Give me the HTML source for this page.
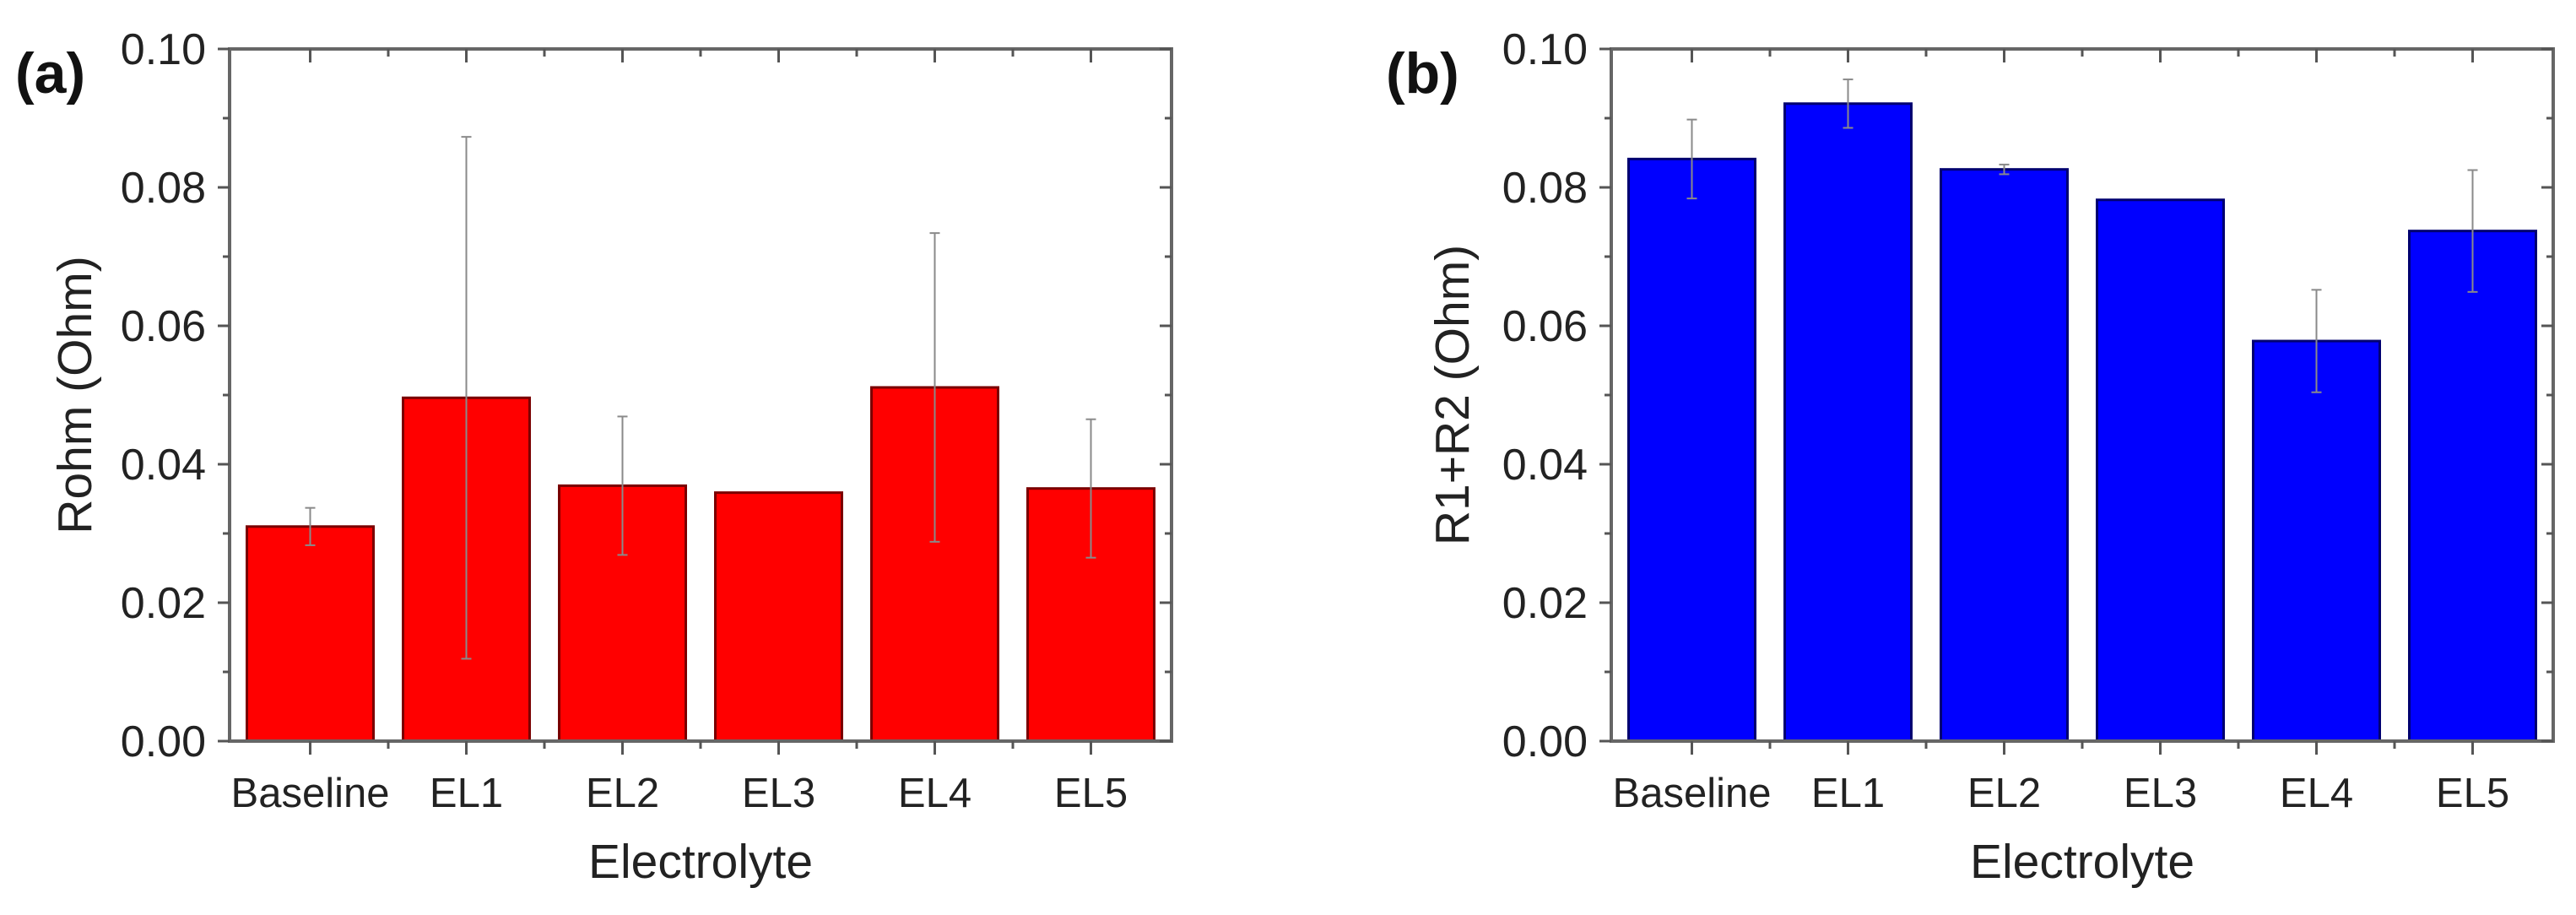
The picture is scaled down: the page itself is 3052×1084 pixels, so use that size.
<!DOCTYPE html>
<html><head><meta charset="utf-8">
<style>
html,body{margin:0;padding:0;background:#fff;}
svg{display:block;font-family:"Liberation Sans",Arial,sans-serif;}
</style></head>
<body>
<svg id="fig" width="3052" height="1084" viewBox="0 0 3052 1084" xmlns="http://www.w3.org/2000/svg"></svg>
<script>
const categories = ["Baseline","EL1","EL2","EL3","EL4","EL5"];
const rohmValues = [0.0310,0.0496,0.0369,0.0359,0.0511,0.0365];
const rohmErrors = [0.0027,0.0377,0.0100,0,0.0223,0.0100];
const r12Values = [0.0841,0.0921,0.0826,0.0782,0.0578,0.0737];
const r12Errors = [0.0057,0.0035,0.0007,0,0.0074,0.0088];
const yTickLabels = ["0.00","0.02","0.04","0.06","0.08","0.10"];
const yTickValues = [0,0.02,0.04,0.06,0.08,0.10];

const NS="http://www.w3.org/2000/svg";
const svg=document.getElementById('fig');
function mk(tag,attrs,parent){const e=document.createElementNS(NS,tag);for(const k in attrs)e.setAttribute(k,attrs[k]);(parent||svg).appendChild(e);return e;}

function panel(cfg){
  const g=mk('g',{});
  
  
  const L=cfg.left,R=cfg.right,T=58,B=878;
  const n=categories.length;
  const pad=95.5, step=(R-L-2*pad)/(n-1);
  const xs=i=>L+pad+i*step;
  const ys=v=>B-(v/0.10)*(B-T);
  const bw=150;
  // bars
  categories.forEach((c,i)=>{
    const v=cfg.values[i];
    const r=mk('rect',{x:xs(i)-bw/2,y:ys(v),width:bw,height:B-ys(v),fill:cfg.fill,stroke:cfg.stroke,'stroke-width':3},g);
    
    
  });
  // error bars
  categories.forEach((c,i)=>{
    const e=cfg.errors[i]; if(e<=0) return;
    const v=cfg.values[i];
    const eg=mk('g',{stroke:'#8a8a8a','stroke-width':2},g);
    
    
    mk('line',{x1:xs(i),x2:xs(i),y1:ys(v+e),y2:ys(v-e)},eg);
    mk('line',{x1:xs(i)-6,x2:xs(i)+6,y1:ys(v+e),y2:ys(v+e)},eg);
    mk('line',{x1:xs(i)-6,x2:xs(i)+6,y1:ys(v-e),y2:ys(v-e)},eg);
  });
  // frame
  const fr=mk('rect',{x:L,y:T,width:R-L,height:B-T,fill:'none',stroke:'#666','stroke-width':4},g);
  
  
  // y ticks major and minor
  for(let k=0;k<=10;k++){
    const v=k*0.01, y=ys(v), major=k%2===0, len=major?14:8;
    mk('line',{x1:L-len,x2:L,y1:y,y2:y,stroke:'#555','stroke-width':3},g);
    mk('line',{x1:R-len,x2:R,y1:y,y2:y,stroke:'#555','stroke-width':3},g);
  }
  yTickValues.forEach((v,i)=>{
    const t=mk('text',{x:L-28,y:ys(v)+18,'text-anchor':'end','font-size':52,fill:'#222'},g);
    t.textContent=yTickLabels[i];
    
    
  });
  // x ticks
  categories.forEach((c,i)=>{
    const x=xs(i);
    mk('line',{x1:x,x2:x,y1:B,y2:B+16,stroke:'#555','stroke-width':3},g);
    mk('line',{x1:x,x2:x,y1:T,y2:T+16,stroke:'#555','stroke-width':3},g);
    if(i<n-1){
      const xm=x+step/2;
      mk('line',{x1:xm,x2:xm,y1:B,y2:B+9,stroke:'#555','stroke-width':3},g);
      mk('line',{x1:xm,x2:xm,y1:T,y2:T+9,stroke:'#555','stroke-width':3},g);
    }
    const t=mk('text',{x:x,y:B+78,'text-anchor':'middle','font-size':49,fill:'#222'},g);
    t.textContent=c;
    
    
  });
  const xt=mk('text',{x:(L+R)/2,y:1040,'text-anchor':'middle','font-size':57,fill:'#222'},g);
  xt.textContent='Electrolyte';
  
  
  const cy=(T+B)/2;
  const yt=mk('text',{x:cfg.ytx,y:cy,'text-anchor':'middle','font-size':57,fill:'#222',transform:`rotate(-90 ${cfg.ytx} ${cy})`},g);
  yt.textContent=cfg.ytitle;
  
  
  const pl=mk('text',{x:cfg.labx,y:110,'font-size':68,'font-weight':'bold',fill:'#111'},g);
  pl.textContent=cfg.label;
  
  
}
panel({name:'panel-a-rohm',left:272,right:1388,values:rohmValues,errors:rohmErrors,fill:'#ff0000',stroke:'#7a0000',ytitle:'Rohm (Ohm)',ytx:108,label:'(a)',labx:18});
panel({name:'panel-b-r1-r2',left:1909,right:3025,values:r12Values,errors:r12Errors,fill:'#0000ff',stroke:'#000070',ytitle:'R1+R2 (Ohm)',ytx:1740,label:'(b)',labx:1642});
</script>
</body></html>
